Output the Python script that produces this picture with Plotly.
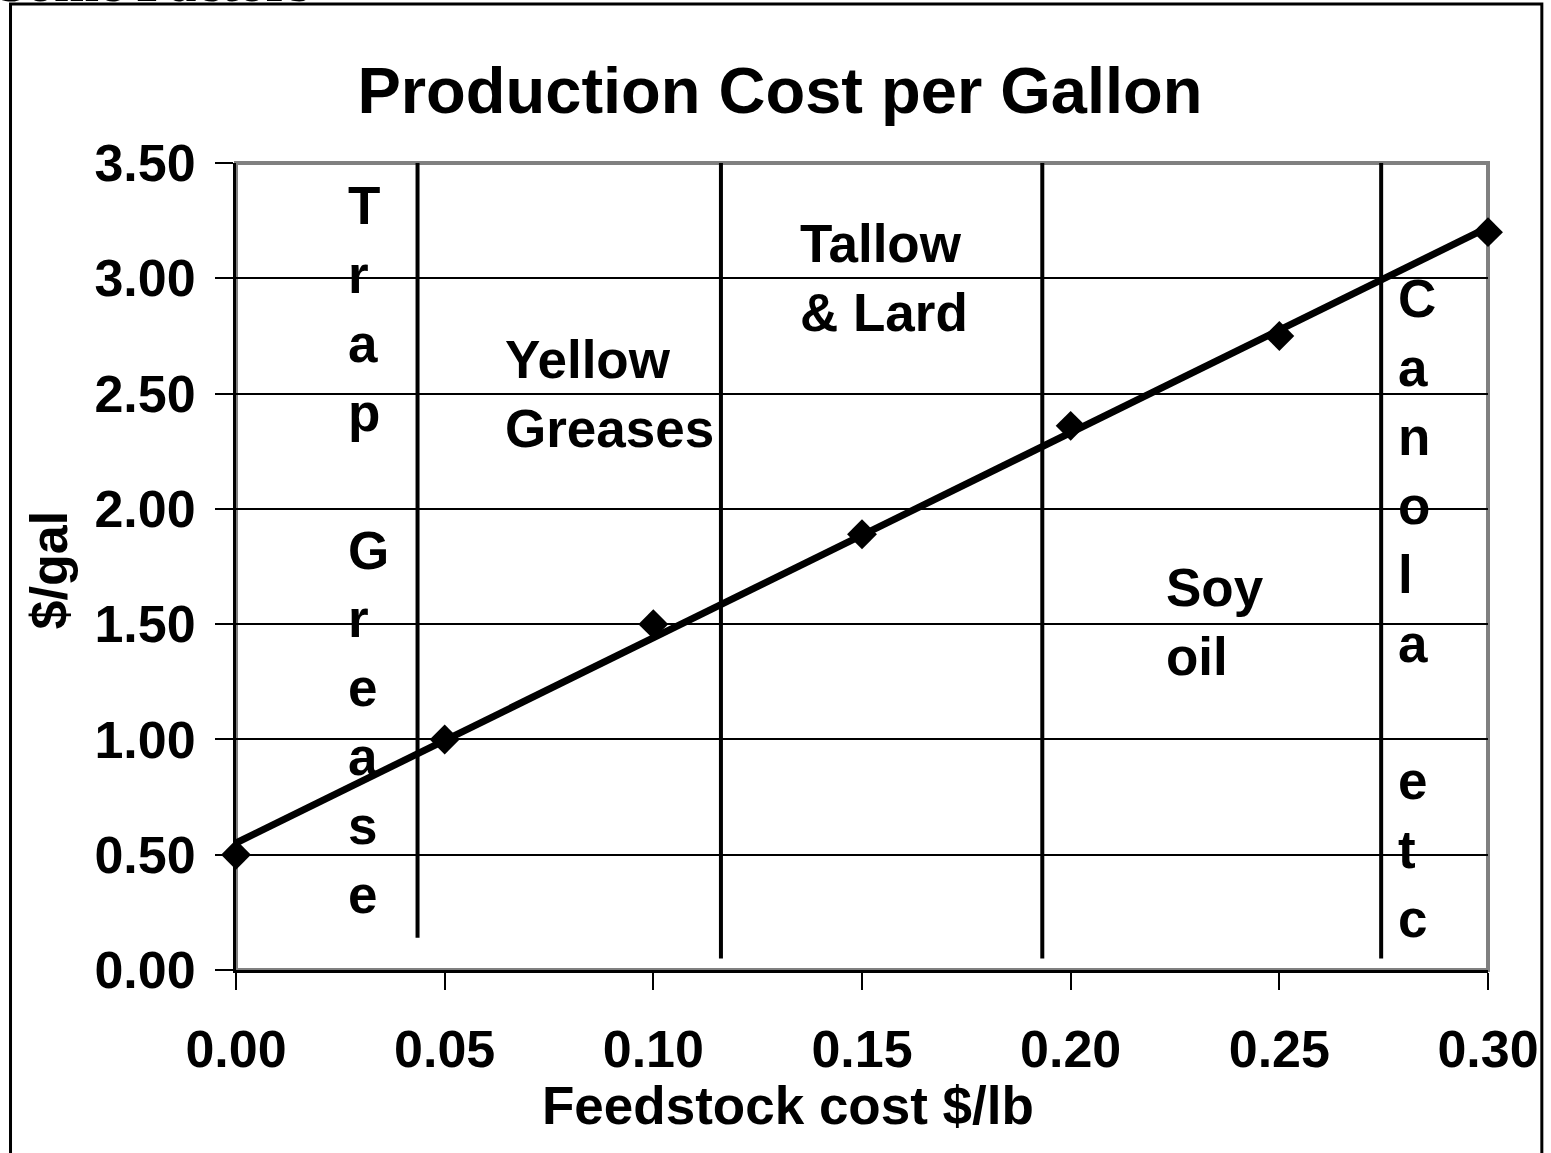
import numpy as np
import plotly.graph_objects as go

# feedstock cost ($/lb) vs production cost ($/gal)
feedstock_cost = [0.00, 0.05, 0.10, 0.15, 0.20, 0.25, 0.30]
production_cost = [0.50, 1.00, 1.50, 1.89, 2.36, 2.75, 3.20]

# feedstock bands: boundaries and where each divider stops at the bottom
divider_x = [0.0435, 0.1162, 0.1932, 0.2744]
divider_bottom = [0.14, 0.05, 0.05, 0.05]

band_labels = ["T<br>r<br>a<br>p<br> <br>G<br>r<br>e<br>a<br>s<br>e",
               "Yellow<br>Greases",
               "Tallow<br>& Lard",
               "Soy<br>oil",
               "C<br>a<br>n<br>o<br>l<br>a<br> <br>e<br>t<br>c"]
band_label_x = [0.0265, 0.0643, 0.1348, 0.2226, 0.2783]
band_label_y = [1.82, 2.50, 3.00, 1.51, 1.57]

y_ticks = [0.0, 0.5, 1.0, 1.5, 2.0, 2.5, 3.0, 3.5]
x_ticks = [0.00, 0.05, 0.10, 0.15, 0.20, 0.25, 0.30]

FONT = "Liberation Sans, Arial, sans-serif"

# linear trendline from the data
slope, intercept = np.polyfit(feedstock_cost, production_cost, 1)
trend_x = [min(feedstock_cost), max(feedstock_cost)]
trend_y = [intercept + slope * v for v in trend_x]

fig = go.Figure()
fig.add_trace(go.Scatter(
    x=feedstock_cost, y=production_cost, mode="markers",
    marker=dict(symbol="diamond", size=23, color="black"),
    cliponaxis=False, showlegend=False,
))
fig.add_trace(go.Scatter(
    x=trend_x, y=trend_y, mode="lines",
    line=dict(color="black", width=7),
    cliponaxis=False, showlegend=False,
))

shapes = []
# grey plot border (top/right), axis lines are drawn black on top
shapes.append(dict(type="rect", xref="paper", yref="paper", x0=0, x1=1, y0=0, y1=1,
                   line=dict(color="#808080", width=4), layer="below"))
for dx, db in zip(divider_x, divider_bottom):
    shapes.append(dict(type="line", xref="x", yref="y", x0=dx, x1=dx, y0=db, y1=3.5,
                       line=dict(color="black", width=4)))
# outer chart frame
shapes.append(dict(type="rect", xref="paper", yref="paper",
                   x0=-0.1801, x1=1.0430, y0=-0.4, y1=1.197,
                   line=dict(color="black", width=3)))

annotations = []
for txt, lx, ly in zip(band_labels, band_label_x, band_label_y):
    annotations.append(dict(text=txt, x=lx, y=ly, xref="x", yref="y",
                            xanchor="left", yanchor="middle", align="left",
                            showarrow=False, borderpad=0,
                            font=dict(family=FONT, size=53, color="black", weight="bold")))
annotations.append(dict(text="Feedstock cost $/lb", xref="paper", yref="paper",
                        x=0.4406, y=-0.1673, xanchor="center", yanchor="middle",
                        showarrow=False,
                        font=dict(family=FONT, size=53, color="black", weight="bold")))
annotations.append(dict(text="$/gal", xref="paper", yref="paper", textangle=-90,
                        x=-0.1490, y=0.4957, xanchor="center", yanchor="middle",
                        showarrow=False,
                        font=dict(family=FONT, size=52, color="black", weight="bold")))
# slide heading cut off at the top edge
annotations.append(dict(text="Some Factors", xref="paper", yref="paper",
                        x=(312 - 236) / 1255, y=(970 - 15) / 807,
                        xanchor="right", yanchor="bottom", showarrow=False,
                        font=dict(family="Liberation Serif, serif", size=54, color="black",
                                  weight="bold")))

fig.update_layout(
    width=1551, height=1153,
    margin=dict(l=236, r=60, t=163, b=183),
    paper_bgcolor="white", plot_bgcolor="white",
    title=dict(text="Production Cost per Gallon", x=780 / 1551, xref="container",
               xanchor="center", y=1 - 90 / 1153, yanchor="middle",
               font=dict(family=FONT, size=65, color="black", weight="bold")),
    xaxis=dict(range=[0, 0.30], tickvals=x_ticks, tickformat=".2f",
               showgrid=False, zeroline=False,
               showline=True, linecolor="black", linewidth=3,
               ticks="outside", ticklen=17, tickwidth=2, tickcolor="black",
               ticklabelstandoff=15,
               tickfont=dict(family=FONT, size=52, color="black", weight="bold")),
    yaxis=dict(range=[0, 3.5], tickvals=y_ticks, tickformat=".2f",
               showgrid=True, gridcolor="black", gridwidth=1.5, zeroline=False,
               showline=True, linecolor="black", linewidth=3,
               ticks="outside", ticklen=18, tickwidth=2, tickcolor="black",
               ticklabelstandoff=9,
               tickfont=dict(family=FONT, size=52, color="black", weight="bold")),
    shapes=shapes,
    annotations=annotations,
    showlegend=False,
)

fig.write_html("out.html", config={"displayModeBar": False},
               post_script="document.body.style.margin='0';document.body.style.overflow='hidden';")
